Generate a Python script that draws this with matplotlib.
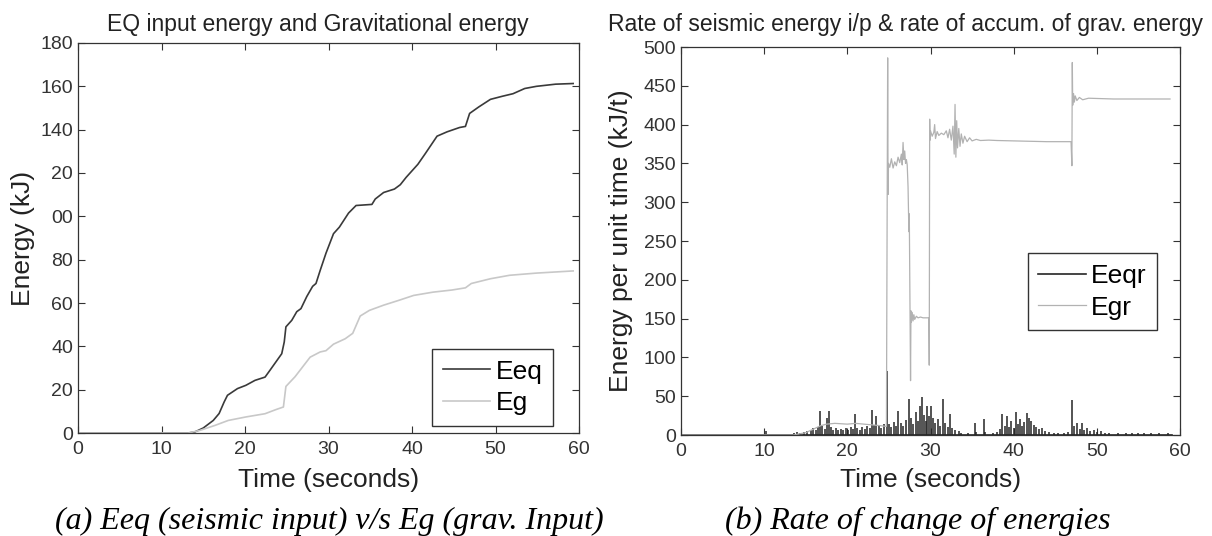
import numpy as np
import matplotlib
matplotlib.use('Agg')
import matplotlib.pyplot as plt

plt.rcParams['font.family'] = ['Liberation Sans', 'DejaVu Sans']

# Left panel: cumulative energies (kJ)
eeq_t = [0, 13.2, 14.0, 15.0, 16.2, 16.9, 17.5, 17.9, 19.1, 20.1, 21.2, 22.4, 23.0, 23.7,
         24.4, 24.7, 24.9, 25.6, 26.2, 26.7, 27.4, 28.1, 28.5, 29.0, 29.7, 30.6, 31.3,
         32.4, 33.3, 35.2, 35.6, 36.6, 37.9, 38.6, 39.3, 40.7, 41.6, 43.0, 44.2, 45.7,
         46.4, 46.9, 48.0, 49.4, 50.8, 52.1, 53.5, 54.9, 57.2, 59.3]
eeq_v = [0, 0, 0.5, 2.3, 5.8, 9.0, 14.3, 17.4, 20.5, 22.0, 24.3, 25.8, 29.0, 32.8,
         36.6, 42.0, 49.0, 52.0, 56.0, 57.4, 63.0, 67.7, 69.0, 75.0, 83.0, 92.0, 95.0,
         101.5, 105.0, 105.5, 108.0, 111.0, 112.6, 114.6, 118.0, 124.0, 129.0, 137.0, 139.0, 141.0,
         141.5, 147.5, 150.5, 154.0, 155.4, 156.6, 159.0, 160.0, 161.0, 161.3]

eg_t = [0, 13.2, 14.6, 16.4, 18.0, 20.1, 22.4, 23.7, 24.6, 24.9, 26.0, 26.9, 27.8, 29.0,
        29.7, 30.6, 32.0, 32.9, 33.8, 34.9, 36.6, 38.4, 40.2, 42.5, 44.8, 46.4, 47.1,
        49.4, 51.7, 54.9, 59.3]
eg_v = [0, 0, 1.2, 3.5, 5.8, 7.4, 8.9, 10.8, 12.0, 21.5, 26.0, 30.5, 35.0, 37.4,
        38.0, 41.0, 43.5, 46.0, 54.0, 56.6, 59.0, 61.2, 63.5, 65.0, 66.0, 67.0, 69.0,
        71.2, 72.8, 73.8, 74.8]

left_yticks = [0, 20, 40, 60, 80, 100, 120, 140, 160, 180]
left_yticklabels = ['0', '20', '40', '60', '80', '00', '20', '140', '160', '180']

# Right panel: rate of grav. energy accumulation (kJ/t)
egr_t = [0, 13.5, 14.0, 15.0, 16.0, 16.8, 17.5, 18.5, 20.0, 21.0, 22.0, 23.0, 24.0, 24.7,
         24.85, 24.9, 24.95, 25.1, 25.3, 25.5, 25.7, 25.9, 26.1, 26.3, 26.5, 26.6, 26.7,
         26.8, 26.9, 27.0, 27.1, 27.2, 27.3, 27.4, 27.45, 27.6, 27.65, 27.7, 27.8, 27.9,
         28.0, 28.1, 28.3, 28.5, 28.8, 29.1, 29.4, 29.8, 29.85, 29.9, 29.95, 30.0, 30.2,
         30.4, 30.5, 30.6, 30.8, 31.0, 31.3, 31.6, 31.9, 32.1, 32.3, 32.5, 32.7, 32.85,
         32.95, 33.05, 33.15, 33.25, 33.4, 33.55, 33.7, 33.9, 34.1, 34.4, 34.7, 35.0, 35.5,
         36.0, 37.0, 38.0, 40.0, 42.0, 44.0, 46.9, 47.0, 47.05, 47.1, 47.2, 47.3, 47.4,
         47.6, 47.9, 48.3, 49.0, 52.0, 55.0, 58.8]
egr_v = [0, 0, 1, 3, 8, 12, 14, 15, 14, 15, 14, 13, 12, 11,
         486, 310, 350, 345, 356, 344, 352, 347, 358, 351, 362, 348, 377,
         355, 366, 350, 355, 348, 320, 262, 285, 70, 160, 145, 158, 147,
         155, 149, 153, 151, 152, 151, 151, 151, 90, 407, 380, 392, 385,
         390, 400, 382, 391, 386, 389, 387, 392, 383, 394, 380, 398, 362,
         426, 358, 405, 370, 395, 372, 388, 376, 385, 378, 383, 379, 381,
         379.5, 380, 379.5, 379, 378.5, 378, 378, 347, 480, 425, 440, 429, 437,
         431, 435, 432, 434, 433, 433, 433]

# Right panel: seismic input rate spikes (time, peak)
eeqr_t = [10.2, 13.6, 13.9, 14.3, 14.8, 15.2, 15.6, 15.9, 16.2, 16.5, 16.75, 17.0, 17.3,
          17.6, 17.75, 18.0, 18.3, 18.6, 18.9, 19.2, 19.5, 19.8, 20.1, 20.4, 20.7, 20.95,
          21.2, 21.5, 21.8, 22.1, 22.4, 22.7, 22.95, 23.2, 23.5, 23.8, 24.1, 24.4, 24.8,
          25.0, 25.3, 25.6, 25.9, 26.1, 26.4, 26.7, 27.0, 27.4, 27.7, 27.9, 28.2, 28.5,
          28.7, 28.95, 29.2, 29.4, 29.55, 29.8, 30.05, 30.3, 30.6, 30.9, 31.2, 31.55, 31.8,
          32.1, 32.3, 32.6, 33.0, 33.4, 33.7, 34.5, 35.3, 35.5, 36.45, 36.6, 37.5, 38.0,
          38.3, 38.6, 38.9, 39.15, 39.4, 39.7, 40.0, 40.25, 40.5, 40.75, 41.0, 41.3, 41.6,
          41.85, 42.1, 42.4, 42.7, 43.0, 43.4, 43.8, 44.3, 44.8, 45.3, 46.0, 46.5, 47.0,
          47.2, 47.6, 48.0, 48.2, 48.5, 48.8, 49.2, 49.6, 50.0, 50.5, 51.0, 51.5, 52.5,
          53.5, 54.2, 55.0, 55.7, 56.5, 57.5, 58.5]
eeqr_v = [5, 2, 4, 3, 4, 5, 7, 9, 6, 10, 31, 12, 8,
          22, 31, 10, 7, 9, 6, 8, 6, 9, 7, 10, 8, 27,
          9, 7, 10, 8, 11, 9, 32, 13, 24, 12, 9, 14, 83,
          14, 10, 17, 12, 31, 15, 11, 19, 47, 22, 14, 30, 18,
          37, 49, 26, 18, 37, 25, 37, 22, 15, 20, 12, 47, 15,
          10, 27, 9, 6, 5, 3, 2, 15, 4, 21, 4, 2, 4,
          8, 27, 12, 25, 10, 18, 9, 29, 14, 20, 11, 17, 28,
          22, 18, 13, 10, 8, 9, 5, 4, 3, 2, 3, 4, 45,
          12, 15, 8, 16, 7, 9, 5, 6, 4, 5, 3, 2, 2,
          3, 3, 3, 2, 2, 2, 2]

W, H = 1212, 536
fig = plt.figure(figsize=(W / 100, H / 100), dpi=100)
ax1 = fig.add_axes([78 / W, 1 - 433 / H, 501 / W, 390 / H])
ax2 = fig.add_axes([681 / W, 1 - 435 / H, 499 / W, 388 / H])

dark = '#3a3a3a'
light = '#c8c8c8'

for ax in (ax1, ax2):
    ax.tick_params(direction='in', top=True, right=True, length=5, width=0.8,
                   labelsize=14, colors='#333333')
    ax.tick_params(axis='x', pad=6)
    for sp in ax.spines.values():
        sp.set_color('#333333')
        sp.set_linewidth(0.9)
    ax.set_xlim(0, 60)
    ax.set_xticks(range(0, 61, 10))

leg_kw = dict(loc='lower right', fontsize=19, fancybox=False, framealpha=1,
              edgecolor='#333333', handlelength=1.8, handletextpad=0.2,
              borderpad=0.4, labelspacing=0.3, borderaxespad=0)

# (a) cumulative energies
ax1.plot(eeq_t, eeq_v, color=dark, lw=1.2, label='Eeq')
ax1.plot(eg_t, eg_v, color=light, lw=1.2, label='Eg')
ax1.set_ylim(0, 180)
ax1.set_yticks(left_yticks)
ax1.set_yticklabels(left_yticklabels)
ax1.set_xlabel('Time (seconds)', fontsize=19, color='#222222')
ax1.set_ylabel('Energy (kJ)', fontsize=19, color='#222222')
ax1.xaxis.set_label_coords(0.5, -0.09)
ax1.yaxis.set_label_coords(-0.086, 0.5)
ax1.legend(bbox_to_anchor=(0.948, 0.018), **leg_kw)

# (b) rates
ax2.vlines(eeqr_t, 0, eeqr_v, color='#252525', lw=1.1)
ax2.plot([0, 59], [0, 0], color='#252525', lw=1.2, label='Eeqr')
ax2.plot(egr_t, egr_v, color='#b2b2b2', lw=0.9, label='Egr')
ax2.set_ylim(0, 500)
ax2.set_yticks(range(0, 501, 50))
ax2.set_xlabel('Time (seconds)', fontsize=19, color='#222222')
ax2.set_ylabel('Energy per unit time (kJ/t)', fontsize=19, color='#222222')
ax2.xaxis.set_label_coords(0.5, -0.085)
ax2.yaxis.set_label_coords(-0.096, 0.5)
ax2.legend(bbox_to_anchor=(0.954, 0.27), **leg_kw)

# titles
fig.text(318 / W, 1 - 25 / H, 'EQ input energy and Gravitational energy',
         fontsize=16.5, color='#222222', ha='center', va='center')
fig.text(906 / W, 1 - 25 / H, 'Rate of seismic energy i/p & rate of accum. of grav. energy',
         fontsize=16.5, color='#222222', ha='center', va='center')

# captions
fig.text(329 / W, 1 - 521 / H, '(a) Eeq (seismic input) v/s Eg (grav. Input)',
         family=['Liberation Serif', 'DejaVu Serif'], style='italic', fontsize=23,
         ha='center', va='center')
fig.text(918 / W, 1 - 521 / H, '(b) Rate of change of energies',
         family=['Liberation Serif', 'DejaVu Serif'], style='italic', fontsize=23,
         ha='center', va='center')

fig.savefig('out.png', dpi=100)
